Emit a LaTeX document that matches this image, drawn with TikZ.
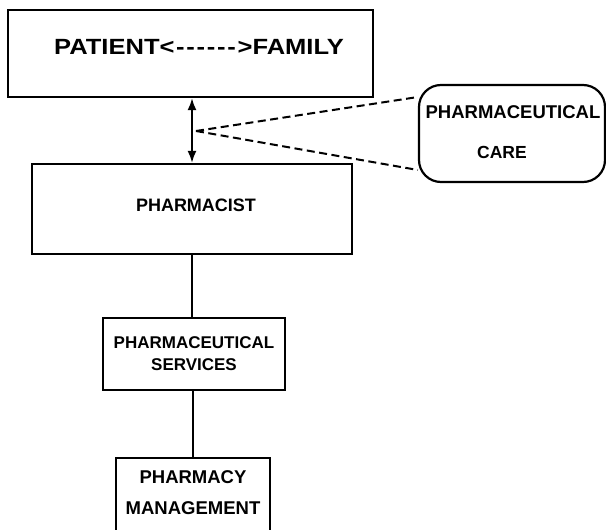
\documentclass[tikz,border=0pt]{standalone}
\usepackage{fontspec}
\usepackage{graphicx}
\setmainfont{Liberation Sans}
\usetikzlibrary{arrows.meta,calc}
\begin{document}
\begin{tikzpicture}[x=1pt,y=-1pt,
  box/.style={draw,line width=2.2pt,inner sep=0pt},
  lbl/.style={align=center,inner sep=0pt},
  conn/.style={line width=2pt},
  dconn/.style={line width=2pt,dash pattern=on 8pt off 4.5pt},
  biarrow/.style={conn,{Latex[length=12pt,width=9pt]}-{Latex[length=12pt,width=9pt]}}]
\useasboundingbox (0,0) rectangle (606,530);
\clip (0,0) rectangle (606,530);
% boxes
\node[box,minimum width=365pt,minimum height=87pt] (top) at (190.5,53.5) {};
\node[lbl,font=\fontsize{22}{26}\selectfont\bfseries] (toptext) at (199,47)
  {\scalebox{1.16}[1]{PATIENT<\kern1.5pt-\kern1.5pt-\kern1.5pt-\kern1.5pt-\kern1.5pt-\kern1.5pt-\kern1.5pt>FAMILY}};
\node[box,minimum width=320pt,minimum height=90pt] (pharm) at (192,209) {};
\node[lbl,font=\fontsize{18}{22}\selectfont\bfseries] (pharmtext) at (196,205) {PHARMACIST};
\node[box,rounded corners=22pt,minimum width=186pt,minimum height=97pt] (care) at (512,133.5) {};
\node[lbl,font=\fontsize{18.5}{22}\selectfont\bfseries] (caretexta) at (513,112) {PHARMACEUTICAL};
\node[lbl,font=\fontsize{17.5}{22}\selectfont\bfseries] (caretextb) at (502,152) {CARE};
\node[box,minimum width=182pt,minimum height=72pt] (serv) at (194,354) {};
\node[lbl,font=\fontsize{17}{22}\selectfont\bfseries] (servtext) at (194,354) {PHARMACEUTICAL\\SERVICES};
\node[box,minimum width=154pt,minimum height=100pt] (mgmt) at (193,508) {};
\node[lbl,font=\fontsize{18.5}{31}\selectfont\bfseries] (mgmttext) at (193,492.5) {PHARMACY\\MANAGEMENT};
% connectors
\draw[biarrow] (top.south -| pharm.north) -- (pharm.north);
\coordinate (mid) at (196,131);
\draw[dconn] (mid) -- ([yshift=36.5pt]care.west);
\draw[dconn] (mid) -- ([yshift=-36.5pt]care.west);
\draw[conn] (pharm.south) -- (pharm.south |- serv.north);
\draw[conn] (serv.south -| mgmt.north) -- (mgmt.north);
\end{tikzpicture}
\end{document}
